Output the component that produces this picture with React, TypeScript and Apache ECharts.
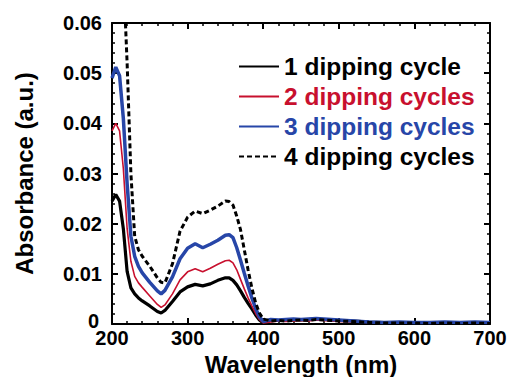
import React, { useEffect, useRef } from "react";
import * as echarts from "echarts";

const wavelengths = [200,205,210,215,220,225,230,235,240,250,260,265,270,280,290,300,310,320,330,340,350,355,360,365,370,375,380,385,390,395,400,410,420,430,440,450,460,470,480,490,500,520,540,560,580,600,620,640,660,680,700];

const cycle1 = [.0245,.0258,.0245,.019,.0105,.0072,.006,.0052,.0046,.0036,.0025,.0022,.0027,.0045,.0064,.0074,.0079,.0076,.008,.0087,.0092,.0092,.0087,.0078,.0066,.0053,.0041,.003,.0018,.0008,.0002,.0008,.0007,.0008,.0009,.0008,.0009,.001,.0009,.0008,.0007,.0006,.0004,.0003,.0003,.0002,.0003,.0002,.0003,.0002,.0003];
const cycle2 = [.0385,.040,.0385,.031,.019,.0125,.0095,.0082,.0073,.0056,.0039,.0033,.0038,.006,.0088,.0104,.011,.0104,.0111,.0119,.0126,.0127,.0122,.0108,.0089,.007,.0052,.0036,.0021,.0009,.0002,.0004,.0006,.0005,.0006,.0007,.0006,.0008,.0007,.0006,.0005,.0004,.0003,.0002,.0003,.0002,.0002,.0003,.0002,.0003,.0002];
const cycle3 = [.049,.0512,.0495,.041,.028,.0175,.0135,.0115,.0102,.0083,.0066,.006,.0067,.0094,.013,.0151,.016,.0152,.0159,.0167,.0177,.0178,.0172,.0152,.0127,.0101,.0076,.0052,.0031,.0014,.0005,.0009,.0008,.0009,.001,.0009,.001,.0011,.001,.0009,.0008,.0006,.0004,.0003,.0004,.0003,.0003,.0004,.0003,.0004,.0003];
const cycle4 = [.09,.088,.082,.07,.052,.03,.0175,.0148,.0135,.0115,.0092,.0083,.0082,.012,.0185,.0213,.0225,.022,.0227,.0235,.0245,.0244,.0237,.0215,.0188,.0148,.0108,.0072,.0042,.0022,.001,.0006,.0007,.0006,.0007,.0008,.0007,.0009,.0008,.0007,.0006,.0005,.0003,.0002,.0002,.0002,.0001,.0002,.0001,.0002,.0001];

const seriesNames = ["1 dipping cycle", "2 dipping cycles", "3 dipping cycles", "4 dipping cycles"];
const seriesColors = ["#000000", "#c8102e", "#2746a8", "#000000"];
const seriesValues = [cycle1, cycle2, cycle3, cycle4];

const FONT = "'Liberation Sans', Arial, sans-serif";

export default function App() {
  const ref = useRef<HTMLDivElement>(null);
  useEffect(() => {
    document.body.style.margin = "0";
    if (!ref.current) return;
    const chart = echarts.init(ref.current, undefined, { renderer: "svg" });
    const widths = [3.2, 1.6, 3.5, 3];
    const types: any[] = ["solid", "solid", "solid", [5, 3]];
    const axisCommon = {
      axisLine: { show: true, onZero: false, lineStyle: { color: "#000", width: 2 } },
      axisTick: { show: true, inside: true, length: 6, lineStyle: { color: "#000", width: 2 } },
      minorTick: { show: true, splitNumber: 5, length: 3, lineStyle: { color: "#000", width: 1.5 } },
      splitLine: { show: false },
      minorSplitLine: { show: false },
    };
    chart.setOption({
      animation: false,
      grid: { left: 112, right: 19, top: 23, bottom: 53, containLabel: false, outerBoundsMode: "none" },
      legend: {
        orient: "vertical",
        left: 233,
        top: 49,
        itemWidth: 40,
        itemHeight: 14,
        itemGap: 5,
        selectedMode: false,
        itemStyle: { opacity: 0 },
        textStyle: { fontFamily: FONT, fontWeight: "bold", fontSize: 24.5, lineHeight: 25 },
        data: seriesNames.map((n, i) => ({ name: n, textStyle: { color: seriesColors[i] } })),
      },
      xAxis: [
        {
          type: "value", min: 200, max: 700, interval: 100, position: "bottom",
          name: "Wavelength (nm)", nameLocation: "middle", nameGap: 28,
          nameTextStyle: { fontFamily: FONT, fontWeight: "bold", fontSize: 24, color: "#000" },
          axisLabel: { fontFamily: FONT, fontWeight: "bold", fontSize: 20, color: "#000", margin: 4 },
          ...axisCommon,
        },
        {
          type: "value", min: 200, max: 700, interval: 100, position: "top",
          axisLabel: { show: false },
          ...axisCommon,
        },
      ],
      yAxis: [
        {
          type: "value", min: 0, max: 0.06, interval: 0.01, position: "left",
          name: "Absorbance (a.u.)", nameLocation: "middle", nameGap: 76,
          nameTextStyle: { fontFamily: FONT, fontWeight: "bold", fontSize: 24, color: "#000" },
          axisLabel: {
            fontFamily: FONT, fontWeight: "bold", fontSize: 20, color: "#000", margin: 10,
            formatter: (v: number) => (v === 0 ? "{z|0}" : v.toFixed(2)),
            rich: {
              z: { fontFamily: FONT, fontWeight: "bold", fontSize: 20, color: "#000", lineHeight: 18, padding: [0, 3, 6, 0] },
            },
          },
          ...axisCommon,
        },
        {
          type: "value", min: 0, max: 0.06, interval: 0.01, position: "right",
          axisLabel: { show: false },
          ...axisCommon,
        },
      ],
      series: seriesNames.map((n, i) => ({
        name: n,
        type: "line",
        symbol: "none",
        clip: true,
        color: seriesColors[i],
        lineStyle: { color: seriesColors[i], width: widths[i], type: types[i] },
        data: wavelengths.map((w, k) => [w, seriesValues[i][k]]),
      })),
    });
    return () => chart.dispose();
  }, []);
  return <div ref={ref} style={{ width: 509, height: 377 }} />;
}
